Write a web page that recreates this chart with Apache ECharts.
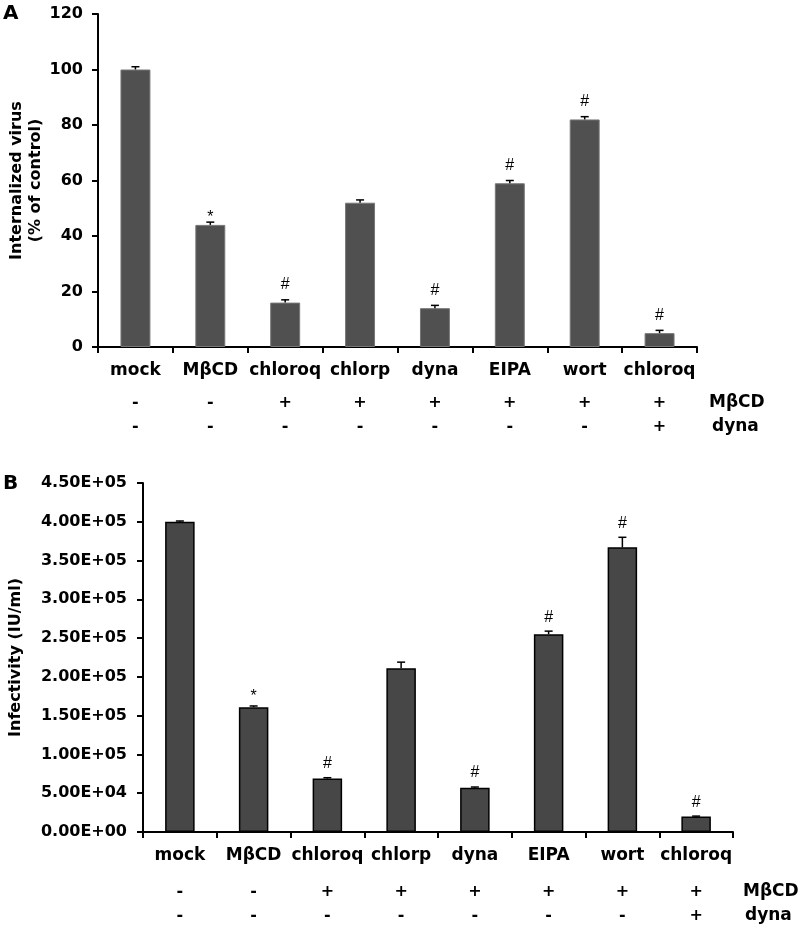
<!DOCTYPE html>
<html><head><meta charset="utf-8">
<script src="https://cdn.jsdelivr.net/npm/echarts@6/dist/echarts.min.js"></script>
<style>html,body{margin:0;padding:0;background:#fff}#c{width:800px;height:928px}</style>
</head><body><div id="c"></div>
<script>
const categories = ['mock','MβCD','chloroq','chlorp','dyna','EIPA','wort','chloroq'];
const mbcdRow = ['-','-','+','+','+','+','+','+'];
const dynaRow = ['-','-','-','-','-','-','-','+'];
const internalized = [100,44,16,52,14,59,82,5];
const internalizedErr = [1,1,1,1,1,1,1,1];
const infectivity = [400000,161000,69000,211000,57000,255000,367000,20000];
const infectivityErr = [1000,1500,1000,8000,1000,4000,13000,500];
const marksA = ['','*','#','','#','#','#','#'];
const marksB = ['','*','#','','#','#','#','#'];
const rowNames = ['MβCD','dyna'];

const F = '"DejaVu Sans"';
function expLabel(v){
  if (v === 0) return '0.00E+00';
  const e = Math.floor(Math.log10(v));
  const m = v / Math.pow(10, e);
  return m.toFixed(2) + 'E+' + (e < 10 ? '0' + e : e);
}
function errSeries(gi, vals, errs, marks, starOff, hashOff){
  return {
    type:'custom', xAxisIndex: gi*3, yAxisIndex: gi, clip:false, z:5,
    data: vals.map((v,i)=>[i, v, errs[i]]),
    encode:{x:0,y:1},
    renderItem(params, api){
      const i = api.value(0), v = api.value(1), e = api.value(2);
      const p0 = api.coord([i, v]); const p1 = api.coord([i, v+e]);
      const m = marks[params.dataIndex];
      const ch = [
        {type:'line', shape:{x1:p0[0],y1:p0[1],x2:p1[0],y2:p1[1]}, style:{stroke:'#000',lineWidth:1.5}},
        {type:'line', shape:{x1:p1[0]-4,y1:p1[1],x2:p1[0]+4,y2:p1[1]}, style:{stroke:'#000',lineWidth:1.5}}
      ];
      if (m) ch.push({type:'text', style:{text:m, x:p1[0], y:p1[1]-(m==='*'?starOff:hashOff), align:'center', verticalAlign:'middle', font:'16px "Liberation Sans"', fill:'#000'}});
      return {type:'group', children: ch};
    }
  };
}
function xAxes(gi, margins){
  return [
    {type:'category', gridIndex:gi, data:categories, position:'bottom',
     axisLine:{lineStyle:{color:'#000',width:2}}, axisTick:{show:true,length:6,lineStyle:{color:'#000',width:2}},
     axisLabel:{color:'#000', fontFamily:F, fontWeight:'bold', fontSize:17, margin:margins[0], verticalAlign:'middle', interval:0}},
    {type:'category', gridIndex:gi, data:mbcdRow, position:'bottom',
     axisLine:{show:false}, axisTick:{show:false},
     axisLabel:{color:'#000', fontFamily:F, fontWeight:'bold', fontSize:16, margin:margins[1], verticalAlign:'middle', interval:0}},
    {type:'category', gridIndex:gi, data:dynaRow, position:'bottom',
     axisLine:{show:false}, axisTick:{show:false},
     axisLabel:{color:'#000', fontFamily:F, fontWeight:'bold', fontSize:16, margin:margins[2], verticalAlign:'middle', interval:0}}
  ];
}
const yBase = {
  type:'value', splitLine:{show:false},
  axisLine:{show:true, lineStyle:{color:'#000',width:2}},
  axisTick:{show:true, length:6, lineStyle:{color:'#000',width:2}},
  nameLocation:'middle', nameRotate:90, nameMoveOverlap:false,
  nameTextStyle:{color:'#000', fontFamily:F, fontWeight:'bold', fontSize:16, lineHeight:19}
};
const chart = echarts.init(document.getElementById('c'), null, {renderer:'canvas'});
chart.setOption({
  animation:false,
  backgroundColor:'#fff',
  grid:[
    {left:98, right:103, top:14, bottom:581, outerBoundsMode:'none', containLabel:false},
    {left:143, right:67, top:483, bottom:96, outerBoundsMode:'none', containLabel:false}
  ],
  xAxis:[...xAxes(0,[24,56,80]), ...xAxes(1,[24,60,84])],
  yAxis:[
    Object.assign({}, yBase, {gridIndex:0, min:0, max:120, interval:20, name:'Internalized virus\n(% of control)', nameGap:53,
      axisLabel:{color:'#000', fontFamily:F, fontWeight:'bold', fontSize:16, margin:15}}),
    Object.assign({}, yBase, {gridIndex:1, min:0, max:450000, interval:50000, name:'Infectivity (IU/ml)', nameGap:118,
      axisLabel:{color:'#000', fontFamily:F, fontWeight:'bold', fontSize:16, margin:16, formatter:expLabel}})
  ],
  series:[
    {type:'bar', xAxisIndex:0, yAxisIndex:0, data:internalized, barWidth:'40%',
     itemStyle:{color:'#505050', borderColor:'#777', borderWidth:1}},
    errSeries(0, internalized, internalizedErr, marksA, 5, 15),
    {type:'bar', xAxisIndex:3, yAxisIndex:1, data:infectivity, barWidth:'40%',
     itemStyle:{color:'#474747', borderColor:'#000', borderWidth:1.5}},
    errSeries(1, infectivity, infectivityErr, marksB, 9, 14)
  ],
  graphic:[
    {type:'text', left:3, top:4, style:{text:'A', font:'bold 20px "DejaVu Sans"', fill:'#000'}},
    {type:'text', left:3, top:474, style:{text:'B', font:'bold 20px "DejaVu Sans"', fill:'#000'}},
    {type:'text', x:709, y:403, style:{text:rowNames[0], font:'bold 17px "DejaVu Sans"', fill:'#000', verticalAlign:'middle'}},
    {type:'text', x:712, y:427, style:{text:rowNames[1], font:'bold 17px "DejaVu Sans"', fill:'#000', verticalAlign:'middle'}},
    {type:'text', x:743, y:892, style:{text:rowNames[0], font:'bold 17px "DejaVu Sans"', fill:'#000', verticalAlign:'middle'}},
    {type:'text', x:745, y:916, style:{text:rowNames[1], font:'bold 17px "DejaVu Sans"', fill:'#000', verticalAlign:'middle'}}
  ]
});
</script></body></html>
